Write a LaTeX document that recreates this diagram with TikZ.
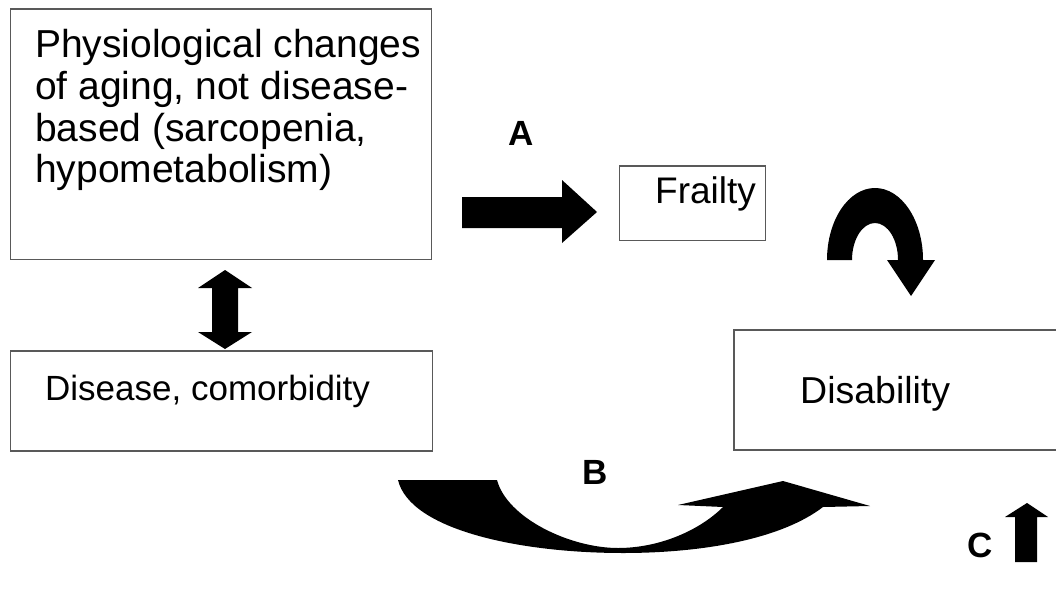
\documentclass[tikz,border=0pt]{standalone}
\usepackage{fontspec}
\setmainfont{Liberation Sans}
\begin{document}
\begin{tikzpicture}[x=1pt,y=1pt,
  box/.style={draw=black!65, line width=1.7pt, rectangle, inner sep=0pt, anchor=north west},
  txt/.style={inner sep=0pt, text=black},
  lbl/.style={inner sep=0pt, font=\fontsize{35}{40}\selectfont\bfseries},
  blockarrow/.style={fill=black, draw=none}]
\useasboundingbox (0,0) rectangle (1056,-596);
% boxes
\node[box, minimum width=421, minimum height=250] (phys) at (9.5,-8.5) {};
\node[box, minimum width=146, minimum height=74] (frail) at (618.5,-165.5) {};
\node[box, minimum width=422, minimum height=100] (dis) at (9.5,-350) {};
\draw[draw=black!65, line width=1.7pt] (1070,-330) -- (734,-330) -- (734,-450) -- (1070,-450);
\coordinate (disab) at (895,-390);
% texts
\node[txt, anchor=north west, align=left, font=\fontsize{39}{41.8}\selectfont] (physt) at (35,-29)
  {Physiological changes\\of aging, not disease-\\based (sarcopenia,\\hypometabolism)};
\node[txt, anchor=base west, font=\fontsize{37}{42}\selectfont] (frailt) at (655,-203) {Frailty};
\node[txt, anchor=base west, font=\fontsize{35}{42}\selectfont] (dist) at (45,-400) {Disease, comorbidity};
\node[txt, anchor=base west, font=\fontsize{37.5}{42}\selectfont] (disabt) at (800,-403) {Disability};
% labels
\node[lbl] (la) at (521,-133) {A};
\node[lbl] (lb) at (595,-472) {B};
\node[lbl] (lc) at (980,-545) {C};
% arrow A
\fill[blockarrow] (462,-197) -- (562,-197) -- (562,-180) -- (597,-212) -- (562,-243) -- (562,-228) -- (462,-228) -- cycle;
% double arrow
\fill[blockarrow] (225,-270) -- (252,-288) -- (238,-288) -- (238,-332) -- (252,-332) -- (225,-349)
  -- (198,-332) -- (212,-332) -- (212,-288) -- (198,-288) -- cycle;
% curved arrow top right
\fill[blockarrow] (827,-260) arc[start angle=180, end angle=0, x radius=48, y radius=72]
  -- (935,-260) -- (911,-296) -- (887,-260) -- (898,-260)
  arc[start angle=0, end angle=180, x radius=23, y radius=37] -- cycle;
% bottom curved arrow B
\fill[blockarrow] (398,-480) -- (497,-480)
  .. controls (507,-518) and (570,-548) .. (618,-548)
  .. controls (660,-548) and (700,-530) .. (723,-507)
  -- (678,-505) -- (783,-481) -- (870,-506) -- (823,-507)
  .. controls (780,-540) and (700,-553) .. (623,-553)
  .. controls (520,-553) and (410,-530) .. (398,-480) -- cycle;
% up arrow C
\fill[blockarrow] (1027,-503) -- (1048,-517) -- (1037,-517) -- (1037,-562) -- (1015,-562) -- (1015,-517) -- (1005,-517) -- cycle;
\end{tikzpicture}
\end{document}
